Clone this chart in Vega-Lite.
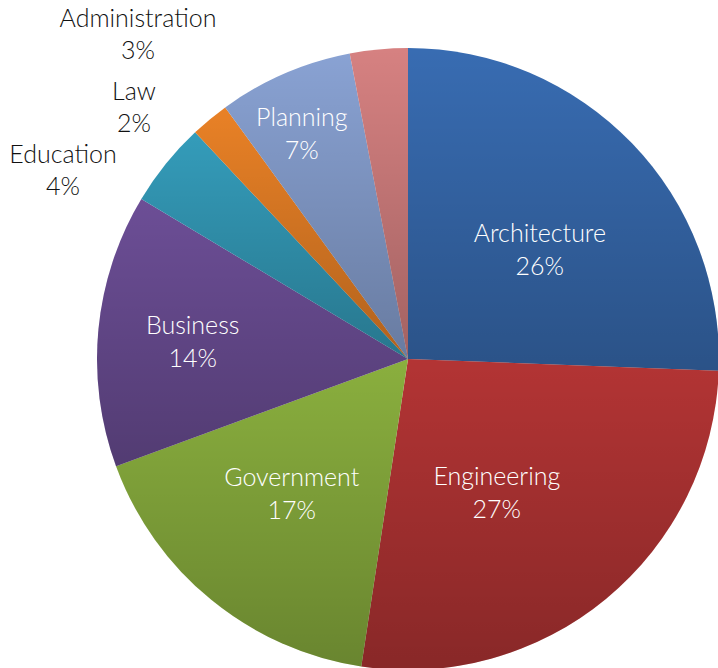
{
  "$schema": "https://vega.github.io/schema/vega-lite/v6.json",
  "width": 816,
  "height": 718,
  "autosize": {"type": "none"},
  "padding": {"left": 0, "top": 0, "right": -98, "bottom": -50},
  "background": "#ffffff",
  "config": {"view": {"stroke": null}},
  "data": {
    "values": [
      {"category": "Architecture", "value": 25.6, "order": 1, "label": "Architecture\n26%"},
      {"category": "Engineering", "value": 26.8, "order": 2, "label": "Engineering\n27%"},
      {"category": "Government", "value": 17.0, "order": 3, "label": "Government\n17%"},
      {"category": "Business", "value": 14.2, "order": 4, "label": "Business\n14%"},
      {"category": "Education", "value": 4.4, "order": 5, "label": "Education\n4%"},
      {"category": "Law", "value": 2.0, "order": 6, "label": "Law\n2%"},
      {"category": "Planning", "value": 7.0, "order": 7, "label": "Planning\n7%"},
      {"category": "Administration", "value": 3.0, "order": 8, "label": "Administration\n3%"}
    ]
  },
  "encoding": {
    "theta": {"field": "value", "type": "quantitative", "stack": true},
    "order": {"field": "order", "type": "quantitative"}
  },
  "layer": [
    {
      "mark": {"type": "arc", "outerRadius": 311},
      "encoding": {
        "color": {
          "field": "category",
          "type": "nominal",
          "legend": null,
          "scale": {
            "domain": ["Architecture", "Engineering", "Government", "Business", "Education", "Law", "Planning", "Administration"],
            "range": ["#386CB2", "#B33434", "#8AAF3E", "#6C4E96", "#349CBA", "#E98126", "#89A2D3", "#D68181"]
          }
        }
      }
    },
    {
      "mark": {
        "type": "arc",
        "outerRadius": 311,
        "color": {
          "gradient": "linear", "x1": 0, "y1": 0, "x2": 0, "y2": 1,
          "stops": [
            {"offset": 0, "color": "rgba(0,0,0,0)"},
            {"offset": 1, "color": "rgba(0,0,0,0.24)"}
          ]
        }
      }
    },
    {
      "mark": {"type": "text", "radius": 171, "thetaOffset": 0.0764, "dy": -16, "color": "#ffffff", "font": "Lato", "fontWeight": 300, "fontSize": 25, "lineBreak": "\n", "lineHeight": 33, "align": "center", "baseline": "middle"},
      "encoding": {"text": {"field": "label"}, "opacity": {"condition": {"test": "datum.category === 'Architecture'", "value": 1}, "value": 0}}
    },
    {
      "mark": {"type": "text", "radius": 161, "thetaOffset": 0.1066, "dy": -16, "color": "#ffffff", "font": "Lato", "fontWeight": 300, "fontSize": 25, "lineBreak": "\n", "lineHeight": 33, "align": "center", "baseline": "middle"},
      "encoding": {"text": {"field": "label"}, "opacity": {"condition": {"test": "datum.category === 'Engineering'", "value": 1}, "value": 0}}
    },
    {
      "mark": {"type": "text", "radius": 178, "thetaOffset": 0.0269, "dy": -16, "color": "#ffffff", "font": "Lato", "fontWeight": 300, "fontSize": 25, "lineBreak": "\n", "lineHeight": 33, "align": "center", "baseline": "middle"},
      "encoding": {"text": {"field": "label"}, "opacity": {"condition": {"test": "datum.category === 'Government'", "value": 1}, "value": 0}}
    },
    {
      "mark": {"type": "text", "radius": 216, "thetaOffset": -0.0154, "dy": -16, "color": "#ffffff", "font": "Lato", "fontWeight": 300, "fontSize": 25, "lineBreak": "\n", "lineHeight": 33, "align": "center", "baseline": "middle"},
      "encoding": {"text": {"field": "label"}, "opacity": {"condition": {"test": "datum.category === 'Business'", "value": 1}, "value": 0}}
    },
    {
      "mark": {"type": "text", "radius": 249, "thetaOffset": -0.032, "dy": -16, "color": "#ffffff", "font": "Lato", "fontWeight": 300, "fontSize": 25, "lineBreak": "\n", "lineHeight": 33, "align": "center", "baseline": "middle"},
      "encoding": {"text": {"field": "label"}, "opacity": {"condition": {"test": "datum.category === 'Planning'", "value": 1}, "value": 0}}
    },
    {
      "mark": {"type": "text", "radius": 421.7, "thetaOffset": -0.6006, "dy": -16, "color": "#111111", "font": "Lato", "fontWeight": 300, "fontSize": 25, "lineBreak": "\n", "lineHeight": 32, "align": "center", "baseline": "middle"},
      "encoding": {"text": {"field": "label"}, "opacity": {"condition": {"test": "datum.category === 'Administration'", "value": 1}, "value": 0}}
    },
    {
      "mark": {"type": "text", "radius": 371.6, "thetaOffset": -0.1379, "dy": -16, "color": "#111111", "font": "Lato", "fontWeight": 300, "fontSize": 25, "lineBreak": "\n", "lineHeight": 32, "align": "center", "baseline": "middle"},
      "encoding": {"text": {"field": "label"}, "opacity": {"condition": {"test": "datum.category === 'Law'", "value": 1}, "value": 0}}
    },
    {
      "mark": {"type": "text", "radius": 392.9, "thetaOffset": -0.1796, "dy": -16, "color": "#111111", "font": "Lato", "fontWeight": 300, "fontSize": 25, "lineBreak": "\n", "lineHeight": 32, "align": "center", "baseline": "middle"},
      "encoding": {"text": {"field": "label"}, "opacity": {"condition": {"test": "datum.category === 'Education'", "value": 1}, "value": 0}}
    }
  ]
}
